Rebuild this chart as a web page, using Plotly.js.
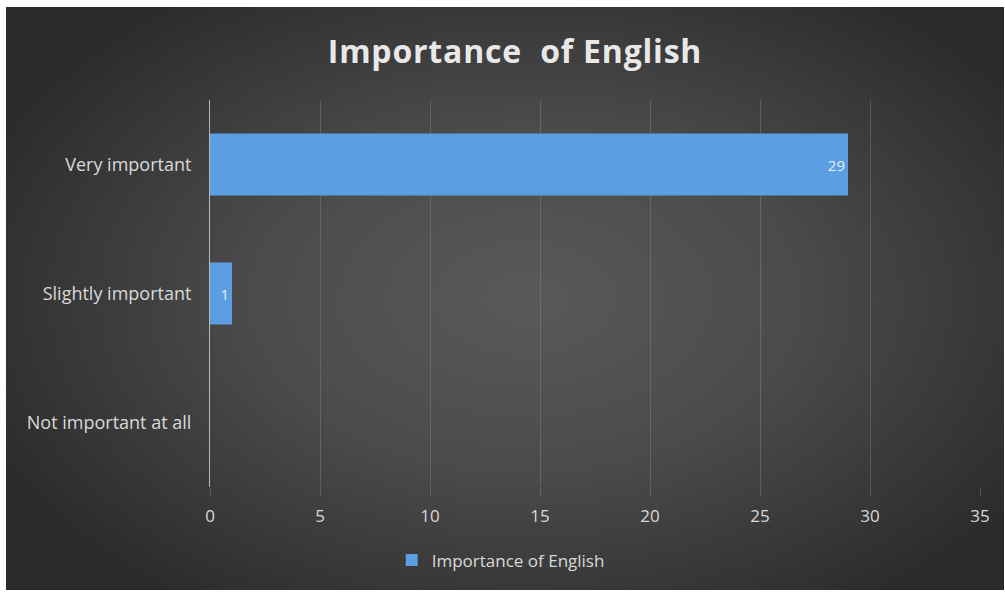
<!DOCTYPE html>
<html>
<head>
<meta charset="utf-8">
<script src="https://cdn.plot.ly/plotly-3.0.1.min.js"></script>
<style>
  html, body { margin: 0; padding: 0; background: #ffffff; width: 1005px; height: 592px; overflow: hidden; }
  #chart {
    position: absolute; left: 6px; top: 7px; width: 998px; height: 583px;
    background: radial-gradient(ellipse 60% 65% at 52% 50%, #595959 0%, #4b4b4b 45%, #363636 80%, #2a2a2a 100%);
  }
  #chart .gtitle { letter-spacing: 0.8px; }
</style>
</head>
<body>
<div id="chart"></div>
<script>
const categories = ["Very important", "Slightly important", "Not important at all"];
const values = [29, 1, 0];
const seriesName = "Importance of English";
const chartTitle = "Importance  of English";
const xTicks = [0, 5, 10, 15, 20, 25, 30, 35];

const labels = values.map(v => v === 0 ? "" : String(v));

const trace = {
  type: "bar",
  orientation: "h",
  name: seriesName,
  y: categories,
  x: values,
  text: labels,
  textposition: "inside",
  insidetextanchor: "end",
  textfont: { family: "Open Sans, sans-serif", size: 15, color: "#e6eef8" },
  marker: { color: "#5b9fe2", line: { width: 0 } },
  width: 0.48,
  hoverinfo: "none",
  showlegend: true
};

const layout = {
  width: 998, height: 583,
  paper_bgcolor: "rgba(0,0,0,0)",
  plot_bgcolor: "rgba(0,0,0,0)",
  margin: { l: 204, r: 24, t: 93, b: 100 },
  font: { family: "Open Sans, sans-serif", color: "#d9d9d9", size: 18 },
  title: {
    text: chartTitle,
    font: { family: "Open Sans, sans-serif", size: 32, color: "#e8e8e8", weight: "bold" },
    x: 0.51, xanchor: "center", y: 0.924, yanchor: "middle"
  },
  xaxis: {
    range: [0, 35],
    tickvals: xTicks,
    ticktext: xTicks.map(String),
    showgrid: true,
    gridcolor: "rgba(150,150,150,0.35)",
    gridwidth: 1,
    zeroline: false,
    showline: false,
    ticks: "outside",
    ticklen: 8,
    tickcolor: "rgba(150,150,150,0.35)",
    ticklabelstandoff: 6,
    tickfont: { size: 17, color: "#d9d9d9" },
    fixedrange: true
  },
  yaxis: {
    type: "category",
    categoryorder: "array",
    categoryarray: categories,
    autorange: "reversed",
    showgrid: false,
    zeroline: false,
    showline: true,
    linecolor: "#b8b8b8",
    linewidth: 1,
    ticks: "",
    ticklabelstandoff: 14,
    tickfont: { size: 18, color: "#d9d9d9" },
    fixedrange: true
  },
  legend: {
    orientation: "h",
    x: 0.236, xanchor: "left",
    y: -0.19, yanchor: "middle",
    font: { size: 17, color: "#d9d9d9" },
    bgcolor: "rgba(0,0,0,0)"
  },
  showlegend: true
};

Plotly.newPlot("chart", [trace], layout, { displayModeBar: false, staticPlot: true });
</script>
</body>
</html>
